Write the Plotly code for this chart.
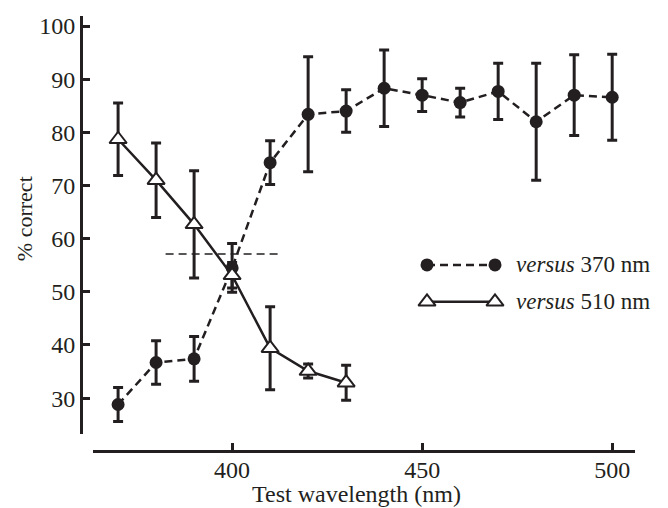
import plotly.graph_objects as go

# ---------------- data ----------------
wl_370 = [370, 380, 390, 400, 410, 420, 430, 440, 450, 460, 470, 480, 490, 500]
pc_370 = [28.8, 36.7, 37.4, 54.5, 74.3, 83.4, 84.0, 88.3, 87.0, 85.6, 87.7, 82.0, 87.0, 86.6]
err_370 = [3.2, 4.1, 4.2, 4.6, 4.1, 10.8, 4.0, 7.2, 3.1, 2.7, 5.3, 11.0, 7.6, 8.1]

wl_510 = [370, 380, 390, 400, 410, 420, 430]
pc_510 = [78.7, 71.0, 62.7, 53.1, 39.4, 35.1, 32.9]
err_510 = [6.8, 7.0, 10.1, 2.4, 7.8, 1.3, 3.3]

thresh_x = [382.5, 412.5]
thresh_y = [57.1, 57.1]

y_ticks = [30, 40, 50, 60, 70, 80, 90, 100]
x_ticks = [400, 450, 500]

legend_labels = ["<i>versus</i> 370 nm", "<i>versus</i> 510 nm"]

# ---------------- style ----------------
INK = "#231f20"
FONT = "Liberation Serif, Times New Roman, serif"
W, H = 668, 508

fig = go.Figure()

fig.add_trace(go.Scatter(
    x=thresh_x, y=thresh_y, mode="lines",
    line=dict(color=INK, width=1.5, dash="8px,5px"),
    showlegend=False, hoverinfo="skip"))

fig.add_trace(go.Scatter(
    x=wl_370, y=pc_370, mode="lines+markers",
    line=dict(color=INK, width=2.5, dash="8px,5px"),
    marker=dict(symbol="circle", size=13, color=INK),
    error_y=dict(type="data", array=err_370, color=INK, thickness=3, width=5),
    showlegend=False))

fig.add_trace(go.Scatter(
    x=wl_510, y=pc_510, mode="lines+markers",
    line=dict(color=INK, width=2.5),
    marker=dict(symbol="triangle-up", size=15, color="white",
                line=dict(color=INK, width=2)),
    error_y=dict(type="data", array=err_510, color=INK, thickness=3, width=5),
    showlegend=False))

# ---- manual legend on a pixel overlay axis ----
leg_x = [427, 495]
leg_rows = [264, 301]
fig.add_trace(go.Scatter(
    x=leg_x, y=[leg_rows[0]] * 2, xaxis="x2", yaxis="y2", mode="lines+markers",
    line=dict(color=INK, width=2.5, dash="8px,5px"),
    marker=dict(symbol="circle", size=13, color=INK),
    showlegend=False, hoverinfo="skip"))
fig.add_trace(go.Scatter(
    x=leg_x, y=[leg_rows[1]] * 2, xaxis="x2", yaxis="y2", mode="lines+markers",
    line=dict(color=INK, width=2.5),
    marker=dict(symbol="triangle-up", size=15, color="white",
                line=dict(color=INK, width=2)),
    showlegend=False, hoverinfo="skip"))

annotations = []
for lab, yy in zip(legend_labels, leg_rows):
    annotations.append(dict(
        x=514, y=yy, xref="x2", yref="y2", text=lab, showarrow=False,
        xanchor="left", yanchor="middle",
        font=dict(family=FONT, size=23, color=INK)))

annotations.append(dict(
    x=24 / W, y=1 - 218 / H, xref="paper", yref="paper", text="% correct",
    textangle=-90, showarrow=False, xanchor="center", yanchor="middle",
    font=dict(family=FONT, size=22, color=INK)))
annotations.append(dict(
    x=356 / W, y=1 - 479 / H, xref="paper", yref="paper",
    text="Test wavelength (nm)", showarrow=False,
    xanchor="center", yanchor="top",
    font=dict(family=FONT, size=24, color=INK)))

x_dom = [93 / W, 635 / W]
y_dom = [1 - 434 / H, 1 - 14 / H]

fig.update_layout(
    width=W, height=H, autosize=False,
    margin=dict(l=0, r=0, t=0, b=0),
    paper_bgcolor="white", plot_bgcolor="rgba(0,0,0,0)",
    font=dict(family=FONT, color=INK, size=24),
    showlegend=False,
    annotations=annotations,
    xaxis=dict(
        domain=x_dom, range=[363.4, 506.0], anchor="free", position=1 - 451 / H,
        showline=True, linecolor=INK, linewidth=3,
        ticks="inside", ticklen=7, tickwidth=3, tickcolor=INK,
        tickvals=x_ticks, ticktext=[str(t) for t in x_ticks],
        ticklabelstandoff=-4,
        showgrid=False, zeroline=False,
        tickfont=dict(family=FONT, size=24, color=INK)),
    yaxis=dict(
        domain=y_dom, range=[23.2, 101.9], anchor="free", position=81 / W,
        showline=True, linecolor=INK, linewidth=3,
        ticks="inside", ticklen=7, tickwidth=3, tickcolor=INK,
        tickvals=y_ticks, ticktext=[str(t) for t in y_ticks],
        showgrid=False, zeroline=False,
        tickfont=dict(family=FONT, size=24, color=INK)),
    xaxis2=dict(domain=[0, 1], range=[0, W], anchor="y2", visible=False),
    yaxis2=dict(domain=[0, 1], range=[H, 0], anchor="x2", visible=False),
)

fig.write_html("out.html")
